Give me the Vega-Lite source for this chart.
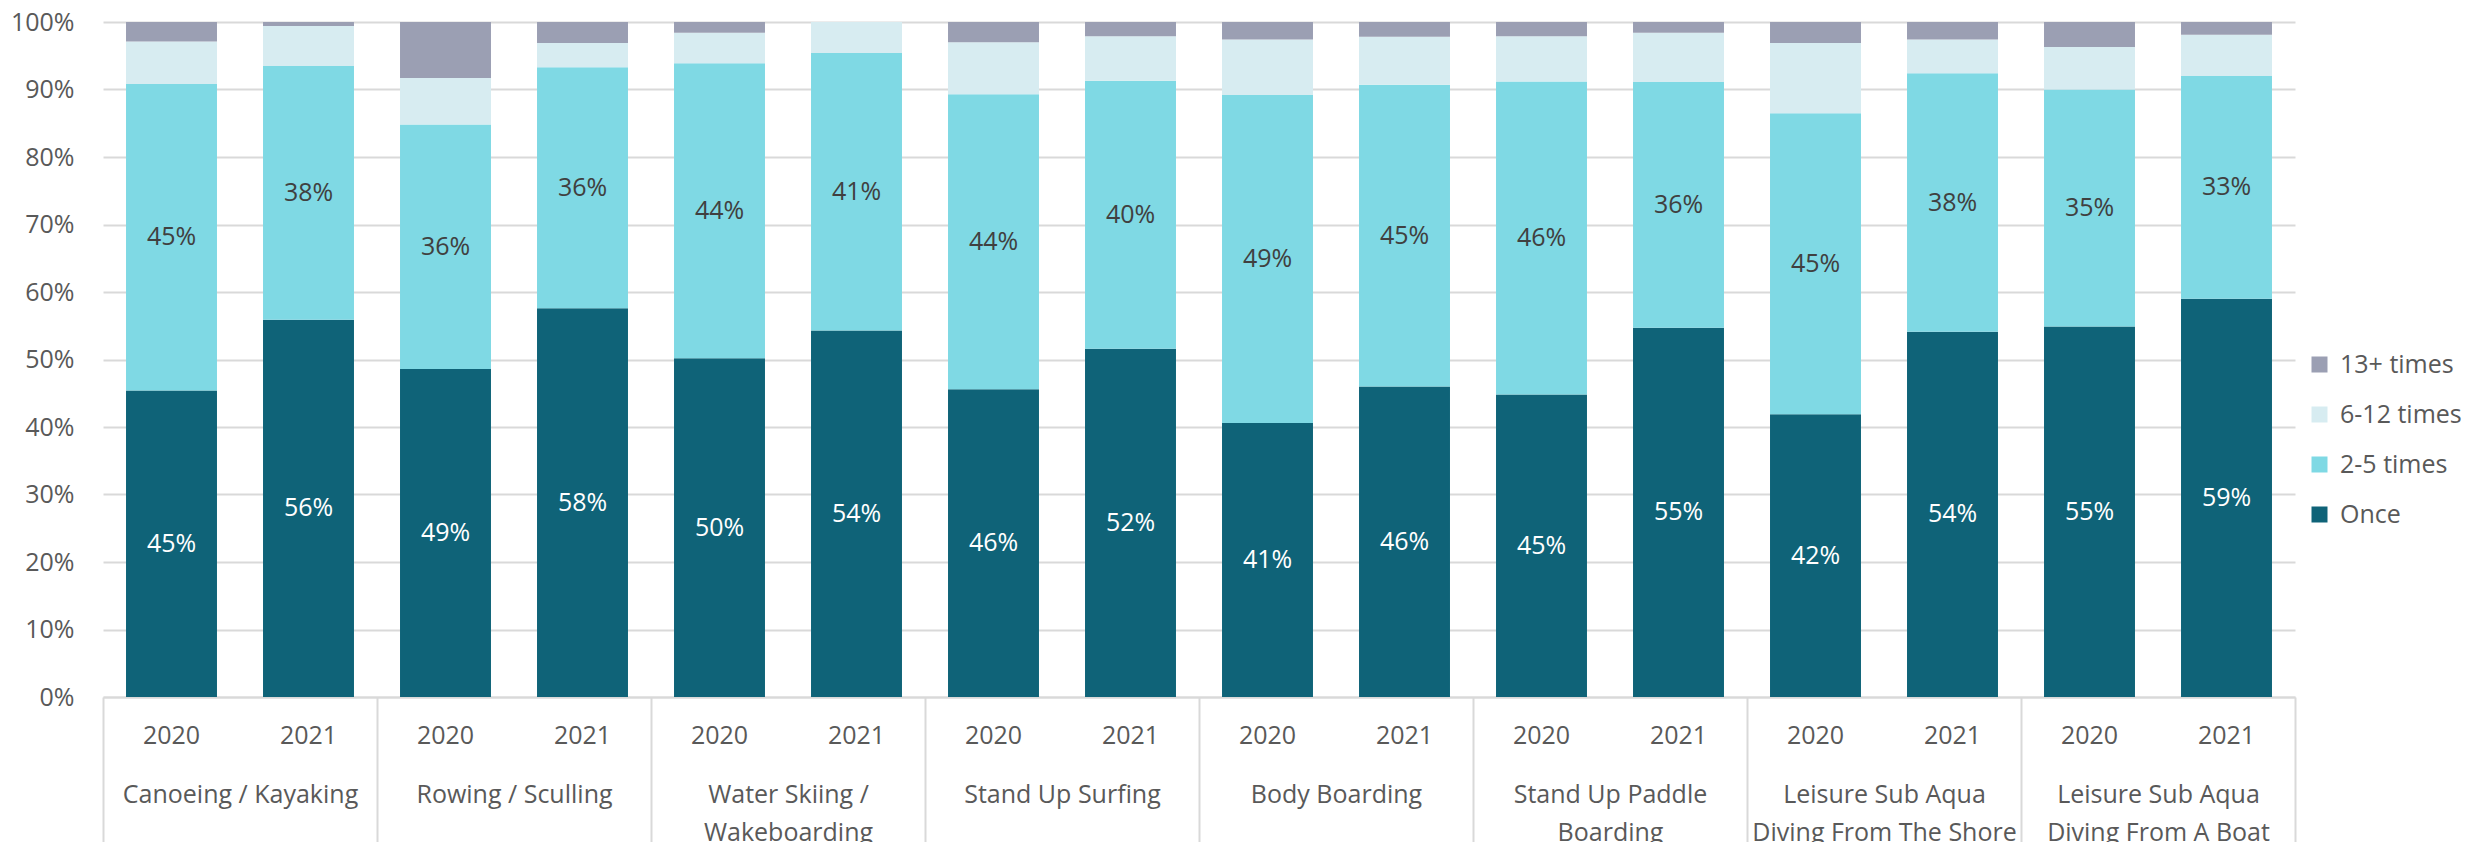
{
  "$schema": "https://vega.github.io/schema/vega-lite/v6.json",
  "width": 2192,
  "height": 675,
  "autosize": "none",
  "padding": {"left": 103, "top": 22, "right": 181, "bottom": 145},
  "background": "white",
  "config": {"font": "Open Sans", "view": {"stroke": null}},
  "datasets": {
    "seriesOrder": [
      {"series": "Once", "rank": 1},
      {"series": "2-5 times", "rank": 2},
      {"series": "6-12 times", "rank": 3},
      {"series": "13+ times", "rank": 4}
    ]
  },
  "data": {"values": [
    {"activity": "Canoeing / Kayaking", "year": "2020", "series": "Once", "value": 0.454},
    {"activity": "Canoeing / Kayaking", "year": "2020", "series": "2-5 times", "value": 0.454},
    {"activity": "Canoeing / Kayaking", "year": "2020", "series": "6-12 times", "value": 0.063},
    {"activity": "Canoeing / Kayaking", "year": "2020", "series": "13+ times", "value": 0.029},
    {"activity": "Canoeing / Kayaking", "year": "2021", "series": "Once", "value": 0.559},
    {"activity": "Canoeing / Kayaking", "year": "2021", "series": "2-5 times", "value": 0.376},
    {"activity": "Canoeing / Kayaking", "year": "2021", "series": "6-12 times", "value": 0.059},
    {"activity": "Canoeing / Kayaking", "year": "2021", "series": "13+ times", "value": 0.006},
    {"activity": "Rowing / Sculling", "year": "2020", "series": "Once", "value": 0.486},
    {"activity": "Rowing / Sculling", "year": "2020", "series": "2-5 times", "value": 0.362},
    {"activity": "Rowing / Sculling", "year": "2020", "series": "6-12 times", "value": 0.069},
    {"activity": "Rowing / Sculling", "year": "2020", "series": "13+ times", "value": 0.083},
    {"activity": "Rowing / Sculling", "year": "2021", "series": "Once", "value": 0.576},
    {"activity": "Rowing / Sculling", "year": "2021", "series": "2-5 times", "value": 0.357},
    {"activity": "Rowing / Sculling", "year": "2021", "series": "6-12 times", "value": 0.036},
    {"activity": "Rowing / Sculling", "year": "2021", "series": "13+ times", "value": 0.031},
    {"activity": "Water Skiing / Wakeboarding", "year": "2020", "series": "Once", "value": 0.502},
    {"activity": "Water Skiing / Wakeboarding", "year": "2020", "series": "2-5 times", "value": 0.437},
    {"activity": "Water Skiing / Wakeboarding", "year": "2020", "series": "6-12 times", "value": 0.045},
    {"activity": "Water Skiing / Wakeboarding", "year": "2020", "series": "13+ times", "value": 0.016},
    {"activity": "Water Skiing / Wakeboarding", "year": "2021", "series": "Once", "value": 0.543},
    {"activity": "Water Skiing / Wakeboarding", "year": "2021", "series": "2-5 times", "value": 0.411},
    {"activity": "Water Skiing / Wakeboarding", "year": "2021", "series": "6-12 times", "value": 0.046},
    {"activity": "Water Skiing / Wakeboarding", "year": "2021", "series": "13+ times", "value": 0.0},
    {"activity": "Stand Up Surfing", "year": "2020", "series": "Once", "value": 0.456},
    {"activity": "Stand Up Surfing", "year": "2020", "series": "2-5 times", "value": 0.437},
    {"activity": "Stand Up Surfing", "year": "2020", "series": "6-12 times", "value": 0.077},
    {"activity": "Stand Up Surfing", "year": "2020", "series": "13+ times", "value": 0.030},
    {"activity": "Stand Up Surfing", "year": "2021", "series": "Once", "value": 0.516},
    {"activity": "Stand Up Surfing", "year": "2021", "series": "2-5 times", "value": 0.397},
    {"activity": "Stand Up Surfing", "year": "2021", "series": "6-12 times", "value": 0.066},
    {"activity": "Stand Up Surfing", "year": "2021", "series": "13+ times", "value": 0.021},
    {"activity": "Body Boarding", "year": "2020", "series": "Once", "value": 0.406},
    {"activity": "Body Boarding", "year": "2020", "series": "2-5 times", "value": 0.486},
    {"activity": "Body Boarding", "year": "2020", "series": "6-12 times", "value": 0.082},
    {"activity": "Body Boarding", "year": "2020", "series": "13+ times", "value": 0.026},
    {"activity": "Body Boarding", "year": "2021", "series": "Once", "value": 0.460},
    {"activity": "Body Boarding", "year": "2021", "series": "2-5 times", "value": 0.447},
    {"activity": "Body Boarding", "year": "2021", "series": "6-12 times", "value": 0.071},
    {"activity": "Body Boarding", "year": "2021", "series": "13+ times", "value": 0.022},
    {"activity": "Stand Up Paddle Boarding", "year": "2020", "series": "Once", "value": 0.448},
    {"activity": "Stand Up Paddle Boarding", "year": "2020", "series": "2-5 times", "value": 0.464},
    {"activity": "Stand Up Paddle Boarding", "year": "2020", "series": "6-12 times", "value": 0.067},
    {"activity": "Stand Up Paddle Boarding", "year": "2020", "series": "13+ times", "value": 0.021},
    {"activity": "Stand Up Paddle Boarding", "year": "2021", "series": "Once", "value": 0.547},
    {"activity": "Stand Up Paddle Boarding", "year": "2021", "series": "2-5 times", "value": 0.364},
    {"activity": "Stand Up Paddle Boarding", "year": "2021", "series": "6-12 times", "value": 0.073},
    {"activity": "Stand Up Paddle Boarding", "year": "2021", "series": "13+ times", "value": 0.016},
    {"activity": "Leisure Sub Aqua Diving From The Shore", "year": "2020", "series": "Once", "value": 0.419},
    {"activity": "Leisure Sub Aqua Diving From The Shore", "year": "2020", "series": "2-5 times", "value": 0.446},
    {"activity": "Leisure Sub Aqua Diving From The Shore", "year": "2020", "series": "6-12 times", "value": 0.104},
    {"activity": "Leisure Sub Aqua Diving From The Shore", "year": "2020", "series": "13+ times", "value": 0.031},
    {"activity": "Leisure Sub Aqua Diving From The Shore", "year": "2021", "series": "Once", "value": 0.541},
    {"activity": "Leisure Sub Aqua Diving From The Shore", "year": "2021", "series": "2-5 times", "value": 0.383},
    {"activity": "Leisure Sub Aqua Diving From The Shore", "year": "2021", "series": "6-12 times", "value": 0.050},
    {"activity": "Leisure Sub Aqua Diving From The Shore", "year": "2021", "series": "13+ times", "value": 0.026},
    {"activity": "Leisure Sub Aqua Diving From A Boat", "year": "2020", "series": "Once", "value": 0.549},
    {"activity": "Leisure Sub Aqua Diving From A Boat", "year": "2020", "series": "2-5 times", "value": 0.351},
    {"activity": "Leisure Sub Aqua Diving From A Boat", "year": "2020", "series": "6-12 times", "value": 0.063},
    {"activity": "Leisure Sub Aqua Diving From A Boat", "year": "2020", "series": "13+ times", "value": 0.037},
    {"activity": "Leisure Sub Aqua Diving From A Boat", "year": "2021", "series": "Once", "value": 0.590},
    {"activity": "Leisure Sub Aqua Diving From A Boat", "year": "2021", "series": "2-5 times", "value": 0.330},
    {"activity": "Leisure Sub Aqua Diving From A Boat", "year": "2021", "series": "6-12 times", "value": 0.061},
    {"activity": "Leisure Sub Aqua Diving From A Boat", "year": "2021", "series": "13+ times", "value": 0.019}
  ]},
  "transform": [
    {"lookup": "series", "from": {"data": {"name": "seriesOrder"}, "key": "series", "fields": ["rank"]}}
  ],
  "encoding": {
    "x": {
      "field": "activity",
      "type": "nominal",
      "sort": ["Canoeing / Kayaking", "Rowing / Sculling", "Water Skiing / Wakeboarding", "Stand Up Surfing", "Body Boarding", "Stand Up Paddle Boarding", "Leisure Sub Aqua Diving From The Shore", "Leisure Sub Aqua Diving From A Boat"],
      "scale": {"paddingInner": 0, "paddingOuter": 0},
      "axis": {
        "title": null,
        "grid": false,
        "domainColor": "#d9d9d9",
        "domainWidth": 2,
        "tickBand": "extent",
        "tickColor": "#d9d9d9",
        "tickWidth": 2,
        "tickSize": 150,
        "labelPadding": -45,
        "labelAngle": 0,
        "labelBaseline": "alphabetic",
        "labelFontSize": 25,
        "labelColor": "#595959",
        "labelLineHeight": 38,
        "labelOverlap": false,
        "labelLimit": 400,
        "labelExpr": "datum.value == 'Water Skiing / Wakeboarding' ? ['Water Skiing /', 'Wakeboarding'] : datum.value == 'Stand Up Paddle Boarding' ? ['Stand Up Paddle', 'Boarding'] : datum.value == 'Leisure Sub Aqua Diving From The Shore' ? ['Leisure Sub Aqua', 'Diving From The Shore'] : datum.value == 'Leisure Sub Aqua Diving From A Boat' ? ['Leisure Sub Aqua', 'Diving From A Boat'] : datum.value"
      }
    },
    "xOffset": {"field": "year", "type": "nominal", "scale": {"paddingInner": 0.336, "paddingOuter": 0.168}}
  },
  "layer": [
    {
      "mark": {"type": "bar"},
      "encoding": {
        "y": {
          "field": "value",
          "type": "quantitative",
          "stack": "zero",
          "scale": {"domain": [0, 1], "nice": false},
          "axis": {
            "title": null,
            "format": ".0%",
            "values": [0, 0.1, 0.2, 0.3, 0.4, 0.5, 0.6, 0.7, 0.8, 0.9, 1],
            "domain": false,
            "ticks": false,
            "gridColor": "#d9d9d9",
            "gridWidth": 2,
            "labelFontSize": 25,
            "labelColor": "#595959",
            "labelPadding": 29
          }
        },
        "order": {"field": "rank", "type": "quantitative", "sort": "ascending"},
        "color": {
          "field": "series",
          "type": "nominal",
          "sort": ["13+ times", "6-12 times", "2-5 times", "Once"],
          "scale": {"domain": ["13+ times", "6-12 times", "2-5 times", "Once"], "range": ["#9B9FB3", "#D7ECF1", "#7FD9E4", "#0F6378"]},
          "legend": {
            "title": null,
            "orient": "none",
            "legendX": 2204,
            "legendY": 330,
            "labelFontSize": 25,
            "labelColor": "#595959",
            "symbolType": "square",
            "symbolSize": 256,
            "symbolStrokeWidth": 0,
            "rowPadding": 24,
            "labelOffset": 8
          }
        }
      }
    },
    {
      "transform": [{"filter": "datum.series == 'Once' || datum.series == '2-5 times'"}],
      "mark": {"type": "text", "fontSize": 25},
      "encoding": {
        "y": {"field": "value", "type": "quantitative", "stack": "zero", "bandPosition": 0.5},
        "detail": {"field": "series"},
        "order": {"field": "rank", "type": "quantitative", "sort": "ascending"},
        "text": {"field": "value", "type": "quantitative", "format": ".0%"},
        "color": {"condition": {"test": "datum.series == 'Once'", "value": "white"}, "value": "#404040"}
      }
    },
    {
      "transform": [{"filter": "datum.series == 'Once'"}],
      "mark": {"type": "text", "fontSize": 25, "dy": 39, "color": "#595959"},
      "encoding": {
        "y": {"datum": 0},
        "text": {"field": "year"}
      }
    }
  ]
}
